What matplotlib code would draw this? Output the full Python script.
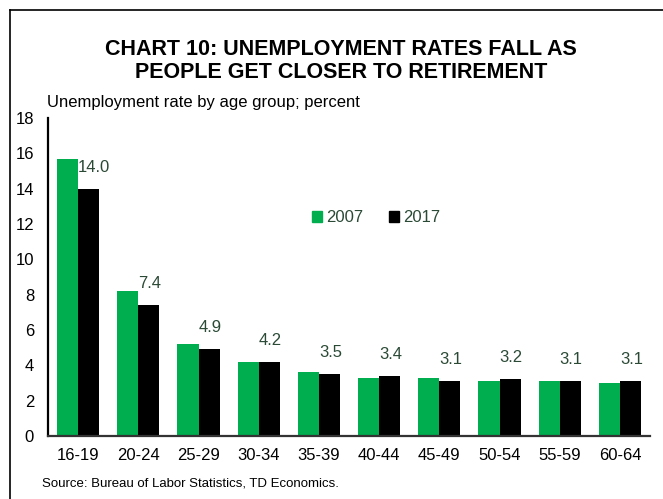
import matplotlib
matplotlib.use("Agg")
import numpy as np
import matplotlib.pyplot as plt
from matplotlib.patches import Patch
from matplotlib.lines import Line2D

ageGroups = ["16-19", "20-24", "25-29", "30-34", "35-39",
             "40-44", "45-49", "50-54", "55-59", "60-64"]
rate2007 = [15.7, 8.2, 5.2, 4.2, 3.6, 3.3, 3.3, 3.1, 3.1, 3.0]
rate2017 = [14.0, 7.4, 4.9, 4.2, 3.5, 3.4, 3.1, 3.2, 3.1, 3.1]
yTicks = [0, 2, 4, 6, 8, 10, 12, 14, 16, 18]

green = '#00AD4F'
labelGreen = '#2B4A36'

plt.rcParams['font.family'] = ['Liberation Sans', 'DejaVu Sans']

fig = plt.figure(figsize=(6.63, 4.99), dpi=100)
W, H = 663, 499
ax = fig.add_axes([48 / W, 63 / H, 602 / W, 318 / H])

x = np.arange(len(ageGroups))
bw = 0.35
ax.bar(x - bw / 2, rate2007, bw, color=green, label='2007')
ax.bar(x + bw / 2, rate2017, bw, color='black', label='2017')

for xi, v in zip(x, rate2017):
    ax.annotate("{:.1f}".format(v), (xi, v), xytext=(0, 15.5),
                textcoords='offset points', ha='left', va='center',
                fontsize=12, color=labelGreen)

ax.set_xlim(-0.5, len(ageGroups) - 0.5)
ax.set_ylim(0, 18)
ax.set_yticks(yTicks)
ax.set_yticklabels([str(t) for t in yTicks], fontsize=12)
ax.set_xticks(x)
ax.set_xticklabels(ageGroups, fontsize=12)
ax.tick_params(length=0, pad=9)
ax.tick_params(axis='y', pad=10)
for s in ['top', 'right']:
    ax.spines[s].set_visible(False)
ax.spines['left'].set_linewidth(1.6)
ax.spines['bottom'].set_linewidth(1.6)
ax.spines['bottom'].set_color('#333333')

handles = [Patch(color=green), Patch(color='black')]
leg = ax.legend(handles, ['2007', '2017'], loc='center',
                bbox_to_anchor=(0.545, 0.686), ncol=2, frameon=False,
                fontsize=12, labelcolor=labelGreen, handlelength=0.6,
                handleheight=0.6, handletextpad=0.2, columnspacing=1.6)

fig.text(341 / W, 1 - 61 / H, "CHART 10: UNEMPLOYMENT RATES FALL AS\nPEOPLE GET CLOSER TO RETIREMENT",
         ha='center', va='center', fontsize=15.5, fontweight='bold', linespacing=1.12)
fig.text(47 / W, 1 - 102 / H, "Unemployment rate by age group; percent",
         ha='left', va='center', fontsize=12)
fig.text(42 / W, 1 - 483 / H, "Source: Bureau of Labor Statistics, TD Economics.",
         ha='left', va='center', fontsize=9.5)

# outer frame (top and left edges visible)
fig.add_artist(Line2D([10 / W, 1], [1 - 10 / H, 1 - 10 / H], color='black', lw=1.2))
fig.add_artist(Line2D([10 / W, 10 / W], [0, 1 - 10 / H], color='black', lw=1.2))

fig.savefig("out.png", dpi=100)
